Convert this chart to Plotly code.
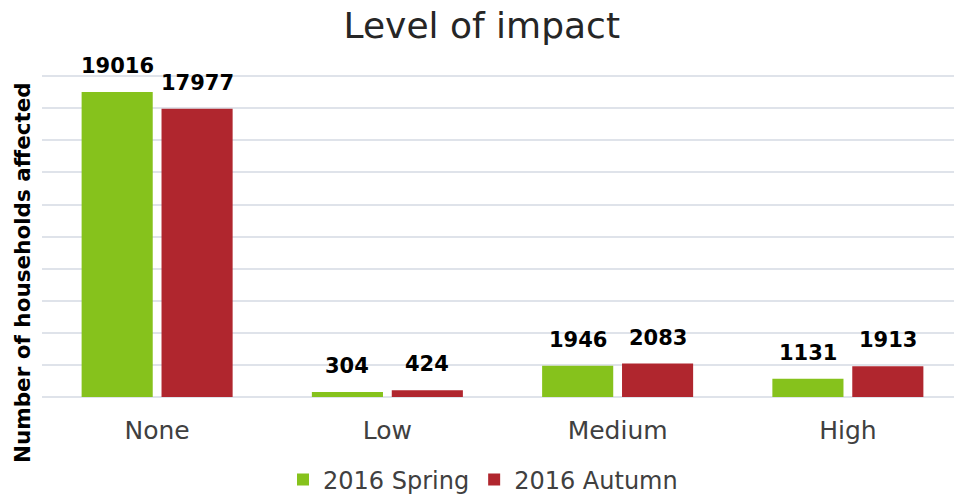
import plotly.graph_objects as go

categories = ["None", "Low", "Medium", "High"]
spring = [19016, 304, 1946, 1131]
autumn = [17977, 424, 2083, 1913]
series_names = ["2016 Spring", "2016 Autumn"]
colors = ["#86c21c", "#b0262e"]

BARGAP = 0.306
GROUPGAP = 0.11

fig = go.Figure()
for name, vals, col in zip(series_names, [spring, autumn], colors):
    fig.add_trace(go.Bar(
        x=categories, y=vals, name=name,
        marker=dict(color=col, line=dict(width=0)),
    ))

# value labels above bars
slot = (1 - BARGAP) / 2
for k, vals in enumerate([spring, autumn]):
    off = (k - 0.5) * slot
    for i, v in enumerate(vals):
        fig.add_annotation(
            x=i + off, y=v, xref="x", yref="y", text=f"<b>{v}</b>",
            showarrow=False, yanchor="bottom", yshift=12,
            font=dict(family="DejaVu Sans", size=21, color="#000000"),
        )

fig.add_annotation(
    x=0, xref="paper", xshift=-20, xanchor="center", y=(397 - 273) / 324, yref="paper",
    yanchor="middle",
    text="<b>Number of households affected</b>", textangle=-90,
    showarrow=False, font=dict(family="DejaVu Sans", size=21.5, color="#000000"),
)

fig.update_layout(
    width=954, height=496,
    margin=dict(l=42, r=0, t=73, b=99, autoexpand=False),
    paper_bgcolor="white", plot_bgcolor="white",
    barmode="group", bargap=BARGAP, bargroupgap=GROUPGAP,
    title=dict(text="Level of impact", x=0.505, xref="container", xanchor="center",
               y=1 - 25 / 496, yref="container", yanchor="middle",
               font=dict(family="DejaVu Sans", size=36, color="#262626")),
    legend=dict(orientation="h", x=483 / 954, xref="container", xanchor="center",
                y=1 - 480 / 496, yref="container", yanchor="middle",
                font=dict(family="DejaVu Sans", size=24, color="#404040"),
                itemwidth=30, tracegroupgap=0),
    showlegend=True,
)
fig.update_xaxes(
    type="category", range=[-0.5, -0.5 + 912 / 230.25], automargin=False,
    showline=False, showgrid=False, ticks="", ticklabelstandoff=16,
    tickfont=dict(family="DejaVu Sans", size=25, color="#404040"),
)
fig.update_yaxes(
    range=[0, 20200], dtick=2000, showticklabels=False, automargin=False,
    gridcolor="#dfe3ea", gridwidth=2, zeroline=True, zerolinecolor="#dfe3ea",
    zerolinewidth=2, showline=False,
)

fig.write_html("out.html", config={"displayModeBar": False},
               post_script="document.body.style.margin='0';")
